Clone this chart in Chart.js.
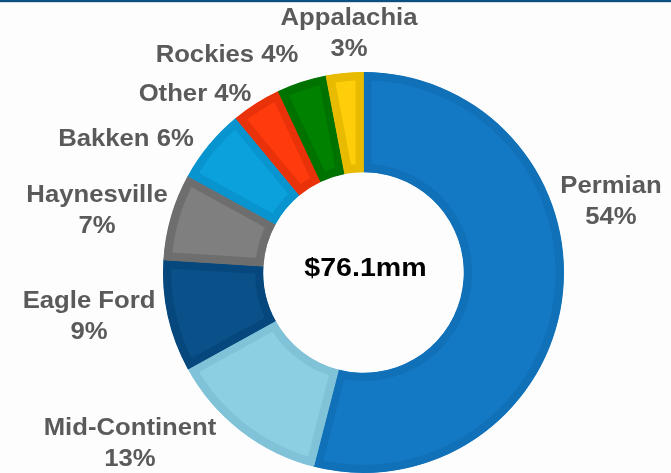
<!DOCTYPE html>
<html>
<head>
<meta charset="utf-8">
<script src="https://cdn.jsdelivr.net/npm/chart.js@4.4.1/dist/chart.umd.min.js"></script>
<style>
  html, body { margin: 0; padding: 0; background: #fdfdfd; }
  #wrap { position: relative; width: 671px; height: 473px; }
  #topbar { position: absolute; left: 0; top: 0; width: 671px; height: 2px; background: #0d4f80; border-bottom: 1px solid #d6dbe0; }
</style>
</head>
<body>
<div id="wrap">
  <div id="topbar"></div>
  <canvas id="mix" width="671" height="473"></canvas>
</div>
<script>
// revenue mix by basin, clockwise from 12 o'clock
var basins = ['Permian', 'Mid-Continent', 'Eagle Ford', 'Haynesville', 'Bakken', 'Other', 'Rockies', 'Appalachia'];
var shares = [54, 13, 9, 7, 6, 4, 4, 3];
var totalText = '$76.1mm';

var fills   = ['#1479c4', '#8ccfe3', '#0a5189', '#7f7f7f', '#0ba1dd', '#ff3a0c', '#008100', '#ffce0a'];
var borders = ['#1070b8', '#80c2d7', '#06487d', '#6e6e6e', '#0895cf', '#ea320a', '#007200', '#e8ba00'];

// where each label sits: [x, y of first line, one or two lines]
var labelSpots = [
  [611, 186, 2], [130, 428, 2], [89, 301, 2], [97, 195, 2],
  [126, 139, 1], [195, 94, 1], [227, 55, 1], [349, 18, 2]
];

var ctx = document.getElementById('mix');

var labelPlugin = {
  id: 'basinLabels',
  afterDraw: function(chart) {
    var c = chart.ctx;
    var arc = chart.getDatasetMeta(0).data[0];
    c.save();
    c.textAlign = 'center';
    c.textBaseline = 'middle';
    c.font = 'bold 24px "Liberation Sans", Arial, sans-serif';
    c.fillStyle = '#5a5a5a';
    basins.forEach(function(name, i) {
      var spot = labelSpots[i];
      var pct = chart.data.datasets[0].data[i] + '%';
      var lines = spot[2] == 2 ? [name, pct] : [name + ' ' + pct];
      lines.forEach(function(t, j) {
        c.save();
        c.translate(spot[0], spot[1] + j * 31);
        c.scale(1.07, 1);
        c.fillText(t, 0, 0);
        c.restore();
      });
    });
    // total in the hole
    c.fillStyle = '#000000';
    c.font = 'bold 26px "Liberation Sans", Arial, sans-serif';
    c.translate(arc.x + 2, arc.y - 4);
    c.scale(1.1, 1);
    c.fillText(totalText, 0, 0);
    c.restore();
  }
};

var mixChart = new Chart(ctx, {
  type: 'doughnut',
  data: {
    labels: basins,
    datasets: [{
      data: shares,
      backgroundColor: fills,
      borderColor: borders,
      borderWidth: 8,
      hoverBorderWidth: 8,
      borderAlign: 'inner'
    }]
  },
  options: {
    responsive: false,
    animation: false,
    cutout: '50%',
    layout: { padding: { top: 72, bottom: 0, left: 163, right: 107 } },
    plugins: {
      legend: { display: false },
      tooltip: { enabled: false }
    }
  },
  plugins: [labelPlugin]
});
</script>
</body>
</html>
